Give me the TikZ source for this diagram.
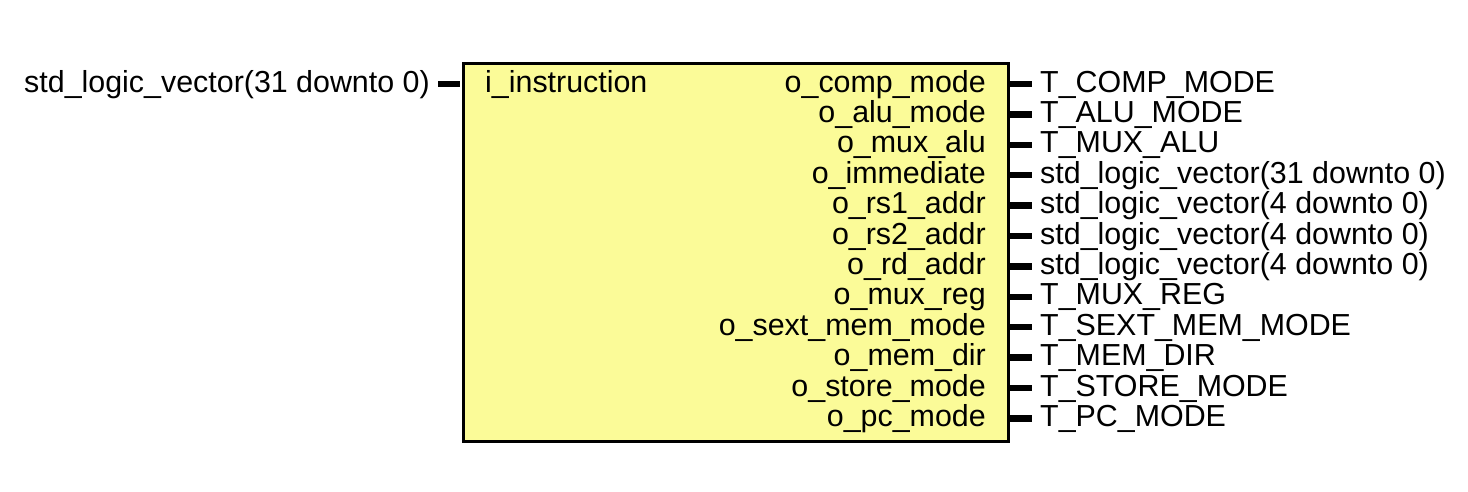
\documentclass[tikz,border=0pt]{standalone}
\usepackage{fontspec}
\setmainfont{Liberation Sans}
\definecolor{boxfill}{RGB}{251,251,152}
\begin{document}
\begin{tikzpicture}[x=1pt,y=-1pt,
  lbl/.style={font=\fontsize{30.4}{33}\selectfont, inner sep=0pt},
  stub/.style={line width=6.5pt},
  entity/.style={draw=black, line width=3pt, fill=boxfill, minimum width=545pt, minimum height=378pt, inner sep=0pt}]
\useasboundingbox (0,0) rectangle (1468,491);
\node[entity, anchor=north west] (box) at (462,62) {};
% input
\coordinate (inL) at (438,84);
\coordinate (inR) at (460,84);
\draw[stub] (inL) -- (inR);
\node[lbl, anchor=base east] (intype) at (430,92) {std\_logic\_vector(31 downto 0)};
\node[lbl, anchor=base west] (inname) at (485,92) {i\_instruction};
% outputs
\foreach \i/\pn/\tn in {0/o\_comp\_mode/T\_COMP\_MODE,
  1/o\_alu\_mode/T\_ALU\_MODE,
  2/o\_mux\_alu/T\_MUX\_ALU,
  3/o\_immediate/std\_logic\_vector(31 downto 0),
  4/o\_rs1\_addr/std\_logic\_vector(4 downto 0),
  5/o\_rs2\_addr/std\_logic\_vector(4 downto 0),
  6/o\_rd\_addr/std\_logic\_vector(4 downto 0),
  7/o\_mux\_reg/T\_MUX\_REG,
  8/o\_sext\_mem\_mode/T\_SEXT\_MEM\_MODE,
  9/o\_mem\_dir/T\_MEM\_DIR,
  10/o\_store\_mode/T\_STORE\_MODE,
  11/o\_pc\_mode/T\_PC\_MODE}{
  \pgfmathsetmacro{\yy}{84+30.4*\i}
  \coordinate (o\i a) at (1009,\yy);
  \coordinate (o\i b) at (1032,\yy);
  \draw[stub] (o\i a) -- (o\i b);
  \node[lbl, anchor=base east] (pn\i) at (986,\yy+8) {\pn};
  \node[lbl, anchor=base west] (tn\i) at (1040,\yy+8) {\tn};
}
\end{tikzpicture}
\end{document}
